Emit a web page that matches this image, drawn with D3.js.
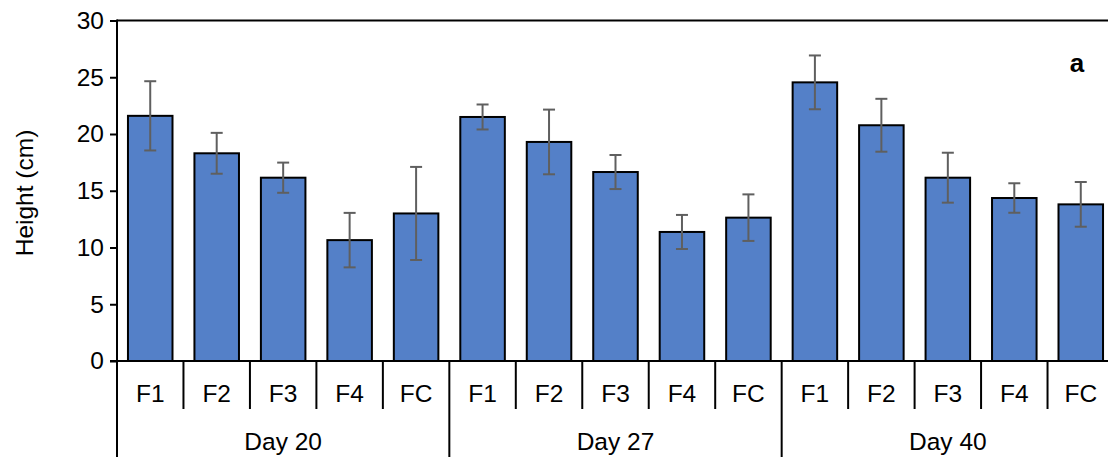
<!DOCTYPE html>
<html>
<head>
<meta charset="utf-8">
<script src="https://cdn.jsdelivr.net/npm/d3@7/dist/d3.min.js"></script>
<style>
  body { margin: 0; background: #fff; }
  text { font-family: "Liberation Sans", Arial, sans-serif; fill: #000; }
</style>
</head>
<body>
<svg id="chart" width="1108" height="461"></svg>
<script>
const groups = ["Day 20", "Day 27", "Day 40"];
const treatments = ["F1", "F2", "F3", "F4", "FC"];
const heights = [
  [21.6, 18.3, 16.15, 10.65, 13.0],
  [21.5, 19.3, 16.65, 11.37, 12.63],
  [24.55, 20.77, 16.15, 14.36, 13.8]
];
const errors = [
  [3.05, 1.8, 1.33, 2.4, 4.1],
  [1.1, 2.85, 1.5, 1.5, 2.05],
  [2.37, 2.33, 2.2, 1.3, 1.97]
];
const yTicks = [0, 5, 10, 15, 20, 25, 30];
const yLabel = "Height (cm)";
const panelLabel = "a";

(function () {
const FS = "24.5px";
const data = [];
groups.forEach((g, gi) => treatments.forEach((t, ti) => {
  data.push({ key: g + "|" + t, group: g, treatment: t, value: heights[gi][ti], err: errors[gi][ti] });
}));

const svg = d3.select("#chart");
const pLeft = 117, pRight = 1114, pTop = 20.5, pBottom = 361;

const x = d3.scaleBand().domain(data.map(d => d.key)).range([pLeft, pRight]).paddingInner(0.33).paddingOuter(0.165);
const xOuter = d3.scaleBand().domain(data.map(d => d.key)).range([pLeft, pRight]);
const y = d3.scaleLinear().domain([0, 30]).range([pBottom, pTop]);

// top border
svg.append("line").attr("x1", pLeft).attr("x2", pRight).attr("y1", y(30)).attr("y2", y(30))
  .attr("stroke", "#000").attr("stroke-width", 2);

// bars
svg.append("g").selectAll("rect").data(data).join("rect")
  .attr("x", d => x(d.key)).attr("width", x.bandwidth())
  .attr("y", d => y(d.value)).attr("height", d => y(0) - y(d.value))
  .attr("fill", "#5480C8").attr("stroke", "#000").attr("stroke-width", 2);

// error bars
const eg = svg.append("g").attr("stroke", "#5f5f5f").attr("stroke-width", 2);
data.forEach(d => {
  const cx = x(d.key) + x.bandwidth() / 2;
  eg.append("line").attr("x1", cx).attr("x2", cx).attr("y1", y(d.value + d.err)).attr("y2", y(d.value - d.err));
  eg.append("line").attr("x1", cx - 6).attr("x2", cx + 6).attr("y1", y(d.value + d.err)).attr("y2", y(d.value + d.err));
  eg.append("line").attr("x1", cx - 6).attr("x2", cx + 6).attr("y1", y(d.value - d.err)).attr("y2", y(d.value - d.err));
});

// y axis
const yAxis = d3.axisLeft(y).tickValues(yTicks).tickSize(7).tickPadding(6);
const ya = svg.append("g").attr("transform", `translate(${pLeft},0)`).call(yAxis);
ya.select(".domain").remove();
ya.selectAll(".tick line").attr("stroke", "#000").attr("stroke-width", 2);
ya.selectAll(".tick text").style("font-size", FS).style("font-family", "Liberation Sans, Arial, sans-serif").attr("fill", "#000");
svg.append("line").attr("x1", pLeft).attr("x2", pLeft).attr("y1", y(30) - 1).attr("y2", 457)
  .attr("stroke", "#000").attr("stroke-width", 2);

// x baseline
svg.append("line").attr("x1", pLeft - 7).attr("x2", pRight).attr("y1", y(0)).attr("y2", y(0))
  .attr("stroke", "#000").attr("stroke-width", 2);

// category separators & labels
data.forEach((d, i) => {
  const x0 = xOuter(d.key);
  if (i > 0) {
    const isGroup = i % treatments.length === 0;
    svg.append("line").attr("x1", x0).attr("x2", x0).attr("y1", y(0)).attr("y2", isGroup ? 457 : 409)
      .attr("stroke", "#000").attr("stroke-width", 2);
  }
  svg.append("text").attr("x", x0 + xOuter.bandwidth() / 2).attr("y", 402)
    .attr("text-anchor", "middle").style("font-size", FS).text(d.treatment);
});
groups.forEach((g) => {
  const first = xOuter(g + "|" + treatments[0]);
  const last = xOuter(g + "|" + treatments[treatments.length - 1]) + xOuter.bandwidth();
  svg.append("text").attr("x", (first + last) / 2).attr("y", 450)
    .attr("text-anchor", "middle").style("font-size", FS).text(g);
});

// y label
svg.append("text").attr("transform", "translate(33,193) rotate(-90)")
  .attr("text-anchor", "middle").style("font-size", FS).text(yLabel);

// panel label
svg.append("text").attr("x", 1077).attr("y", 72).attr("text-anchor", "middle")
  .style("font-size", "26px").style("font-weight", "bold").text(panelLabel);
})();
</script>
</body>
</html>
